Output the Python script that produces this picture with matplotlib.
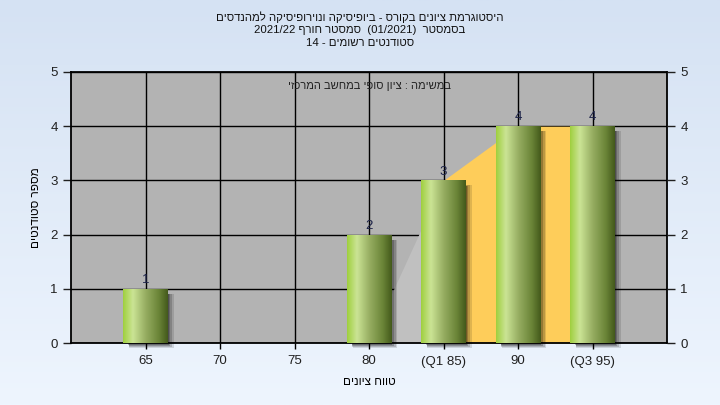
import numpy as np
import matplotlib
matplotlib.use("Agg")
import matplotlib.pyplot as plt
from matplotlib import transforms
from matplotlib.patches import Rectangle
from matplotlib.colors import LinearSegmentedColormap

plt.rcParams['font.family'] = ['Liberation Sans', 'DejaVu Sans']


def heb(s):
    # matplotlib has no bidi: hebrew runs are written in visual order
    return s[::-1]


# ------------------------------------------------------------------
# DATA
# ------------------------------------------------------------------
categories = ["65", "70", "75", "80", "(Q1 85)", "90", "(Q3 95)"]
counts = [1, 0, 0, 2, 3, 4, 4]
area_vals = [0, 0, 0, 0, 3, 4, 4]
q1_idx, q3_idx = 4, 6

title_lines = [
    heb("היסטוגרמת ציונים בקורס - ביופיסיקה ונוירופיסיקה למהנדסים"),
    "2021/22 " + heb("סמסטר חורף") + "  (01/2021)  " + heb("בסמסטר"),
    "14 - " + heb("סטודנטים רשומים"),
]
inner_text = heb("במשימה : ציון סופי במחשב המרכזי")
xlabel = heb("טווח ציונים")
ylabel = heb("מספר סטודנטים")

# ------------------------------------------------------------------
# FIGURE
# ------------------------------------------------------------------
fig = plt.figure(figsize=(7.2, 4.05), dpi=100)

# background gradient
bg = fig.add_axes([0, 0, 1, 1], zorder=-10)
bg_cmap = LinearSegmentedColormap.from_list("bg", ["#d5e2f3", "#eef5fe"])
bg.imshow(np.linspace(0, 1, 256).reshape(-1, 1), cmap=bg_cmap, aspect="auto",
          extent=[0, 1, 0, 1])
bg.axis("off")

ax = fig.add_axes([71 / 720, 62 / 405, 596 / 720, 271 / 405])
ax.set_facecolor("#b3b3b3")
x = np.arange(len(categories))

ax.set_xlim(-1, len(categories))
ax.set_ylim(0, 5)

# grid
ax.set_axisbelow(True)
ax.grid(True, color="black", linewidth=1.0)

# area series (grey part then interquartile part in orange)
ax.fill_between(x[:q1_idx + 1], 0, area_vals[:q1_idx + 1], color="#c0c0c0",
                linewidth=0, zorder=1.5)
ax.fill_between(x[q1_idx:q3_idx + 1], 0, area_vals[q1_idx:q3_idx + 1],
                color="#fecd5a", linewidth=0, zorder=1.6)

# bars
bar_w = 0.6
bars = ax.bar(x, counts, width=bar_w, color="#a6d04a", zorder=3)

bar_cmap = LinearSegmentedColormap.from_list(
    "bar", [(0.0, "#9fcf3e"), (0.22, "#cbe495"), (0.5, "#97ae62"),
            (0.8, "#6a8437"), (1.0, "#43591b")])
grad = np.linspace(0, 1, 256).reshape(1, -1)

for b, c in zip(bars, counts):
    if c == 0:
        continue
    x0, y0 = b.get_x(), b.get_y()
    w, h = b.get_width(), b.get_height()
    # soft shadow
    for k, a in enumerate([0.12, 0.16, 0.2, 0.26]):
        off = transforms.offset_copy(ax.transData, fig=fig,
                                     x=(6 - k) * 0.72, y=-(5 - k) * 0.72,
                                     units="points")
        sh = Rectangle((x0 + 0.01 * k, y0), w - 0.02 * k, h - 0.02 * k,
                       transform=off, color="black", alpha=a, linewidth=0,
                       zorder=2.5, clip_on=False)
        ax.add_patch(sh)
    im = ax.imshow(grad, cmap=bar_cmap, aspect="auto",
                   extent=[x0, x0 + w, y0, y0 + h], zorder=3.2)
    im.set_clip_path(b)
    ax.text(b.get_x() + w / 2, h + 0.05, str(c), ha="center", va="bottom",
            fontsize=9.5, color="#1c2248", zorder=5)

ax.set_xlim(-1, len(categories))
ax.set_ylim(0, 5)

ax.set_xticks(x)
ax.set_xticklabels(categories, fontsize=9.5, color="#202020")
ax.set_yticks(range(6))
ax.tick_params(axis="y", labelsize=9.5, colors="#202020", length=6, width=1)
ax.tick_params(axis="x", length=4, width=1, pad=5)
for sp in ax.spines.values():
    sp.set_linewidth(1.3)
    sp.set_color("black")

ax2 = ax.twinx()
ax2.set_ylim(0, 5)
ax2.set_yticks(range(6))
ax2.tick_params(axis="y", labelsize=9.5, colors="#202020", length=6, width=1)
for sp in ax2.spines.values():
    sp.set_visible(False)

ax.set_xlabel(xlabel, fontsize=8.5, labelpad=6)
ax.set_ylabel(ylabel, fontsize=8.5, labelpad=6)

ax.text(0.5, 0.965, inner_text, transform=ax.transAxes, ha="center",
        va="top", fontsize=8, color="#222222", zorder=6)

for i, line in enumerate(title_lines):
    fig.text(0.5, 1 - (17 + 13 * i) / 405, line, ha="center", va="center",
             fontsize=8.2, color="#111111")

plt.savefig("out.png", dpi=100)
plt.close()
